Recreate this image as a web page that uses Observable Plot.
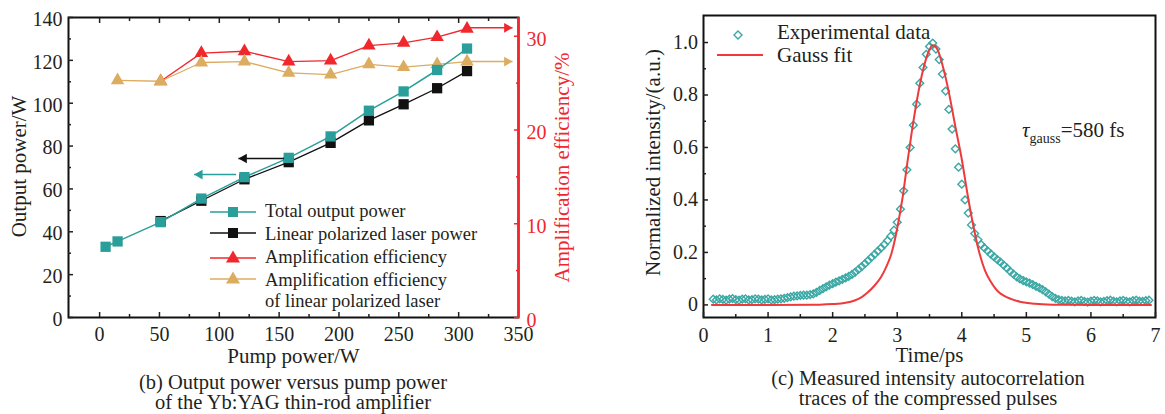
<!DOCTYPE html>
<html><head><meta charset="utf-8">
<script src="https://cdn.jsdelivr.net/npm/d3@7"></script>
<script src="https://cdn.jsdelivr.net/npm/@observablehq/plot@0.6"></script>
<style>
body{margin:0;background:#fff;}
#wrap{position:relative;width:1165px;height:414px;overflow:hidden;font-family:"Liberation Serif","Times New Roman",serif;color:#231f20;}
.abs{position:absolute;white-space:nowrap;}
</style></head><body><div id="wrap"></div>
<script>
// ---- Chart (b) data ----
const pumpPower   = [5, 15, 51, 85, 121, 158, 193, 225, 254, 282, 307];
const totalPower  = [33, 35.5, 44.5, 55.5, 65.5, 74.5, 84.5, 96.5, 105.5, 115.5, 125.5];
const linearPump  = [51, 85, 121, 158, 193, 225, 254, 282, 307];
const linearPower = [45, 54.5, 64.5, 72.5, 81.5, 92, 99.5, 107, 115];
const ampPump     = [51, 85, 121, 158, 193, 225, 254, 282, 307];
const ampEff      = [25.2, 28.2, 28.4, 27.3, 27.4, 29.0, 29.3, 29.9, 30.8];
const linEffPump  = [15, 51, 85, 121, 158, 193, 225, 254, 282, 307];
const linEff      = [25.3, 25.2, 27.2, 27.3, 26.1, 25.9, 27.0, 26.7, 27.0, 27.3];
const powerArrowBlack = [{x1: 154, x2: 116, y: 74.2}];
const powerArrowTeal  = [{x1: 114, x2: 79, y: 66.7}];
const effArrowRed = [{x1: 307, x2: 345, eff: 30.9}];
const effArrowTan = [{x1: 307, x2: 345, eff: 27.3}];
const pumpTicks  = [0, 50, 100, 150, 200, 250, 300, 350];
const pumpMinor  = [25, 75, 125, 175, 225, 275, 325];
const powerTicks = [0, 20, 40, 60, 80, 100, 120, 140];
const powerMinor = [10, 30, 50, 70, 90, 110, 130];
const effTicks = [0, 10, 20, 30];
const effMinor = [5, 15, 25];

// ---- Chart (c) data ----
const expTime = [0.15,0.20,0.25,0.30,0.35,0.40,0.45,0.50,0.55,0.60,0.65,0.70,0.75,0.80,0.85,0.90,0.95,1.00,1.05,1.10,1.15,1.20,1.25,1.30,1.35,1.40,1.45,1.50,1.55,1.60,1.65,1.70,1.75,1.80,1.85,1.90,1.95,2.00,2.05,2.10,2.15,2.20,2.25,2.30,2.35,2.40,2.45,2.50,2.55,2.60,2.65,2.70,2.75,2.80,2.85,2.90,2.95,3.00,3.05,3.10,3.15,3.20,3.25,3.30,3.35,3.40,3.45,3.50,3.55,3.60,3.65,3.70,3.75,3.80,3.85,3.90,3.95,4.00,4.05,4.10,4.15,4.20,4.25,4.30,4.35,4.40,4.45,4.50,4.55,4.60,4.65,4.70,4.75,4.80,4.85,4.90,4.95,5.00,5.05,5.10,5.15,5.20,5.25,5.30,5.35,5.40,5.45,5.50,5.55,5.60,5.65,5.70,5.75,5.80,5.85,5.90,5.95,6.00,6.05,6.10,6.15,6.20,6.25,6.30,6.35,6.40,6.45,6.50,6.55,6.60,6.65,6.70,6.75,6.80,6.85,6.90];
const expIntensity = [0.022,0.019,0.023,0.021,0.018,0.022,0.024,0.020,0.018,0.022,0.023,0.019,0.020,0.023,0.022,0.019,0.021,0.023,0.019,0.020,0.022,0.023,0.025,0.028,0.031,0.033,0.034,0.036,0.037,0.037,0.039,0.042,0.048,0.055,0.062,0.069,0.075,0.081,0.087,0.092,0.097,0.103,0.109,0.116,0.125,0.135,0.146,0.157,0.169,0.181,0.193,0.205,0.217,0.230,0.245,0.262,0.285,0.315,0.365,0.435,0.515,0.600,0.685,0.765,0.845,0.905,0.955,0.985,0.998,0.975,0.935,0.880,0.815,0.745,0.670,0.595,0.525,0.460,0.400,0.350,0.305,0.272,0.248,0.230,0.217,0.206,0.194,0.183,0.173,0.163,0.152,0.140,0.128,0.117,0.107,0.099,0.093,0.088,0.083,0.077,0.071,0.065,0.058,0.050,0.041,0.032,0.025,0.020,0.017,0.015,0.017,0.014,0.012,0.015,0.017,0.013,0.011,0.014,0.017,0.015,0.012,0.013,0.016,0.018,0.014,0.012,0.015,0.017,0.013,0.012,0.016,0.018,0.014,0.013,0.016,0.018];
const gaussTime = [0.13,1.00,1.80,2.00,2.20,2.34,2.45,2.55,2.65,2.75,2.83,2.91,2.97,3.01,3.05,3.09,3.15,3.22,3.32,3.40,3.47,3.55,3.62,3.70,3.80,3.90,4.00,4.09,4.18,4.26,4.36,4.45,4.51,4.57,4.65,4.77,4.90,5.13,5.40,6.00,6.93];
const gaussIntensity = [0,0,0.001,0.003,0.008,0.017,0.030,0.049,0.074,0.106,0.145,0.195,0.255,0.305,0.36,0.42,0.53,0.65,0.80,0.895,0.955,0.99,0.975,0.915,0.81,0.68,0.555,0.42,0.30,0.21,0.131,0.088,0.066,0.049,0.035,0.022,0.012,0.004,0.001,0,0];
const timeTicks = [0, 1, 2, 3, 4, 5, 6, 7];
const timeMinor = [0.5, 1.5, 2.5, 3.5, 4.5, 5.5, 6.5];
const intTicks = [0, 0.2, 0.4, 0.6, 0.8, 1.0];
const intMinor = [0.1, 0.3, 0.5, 0.7, 0.9];

const FONT = '"Liberation Serif","Times New Roman",serif';
const ink = "#231f20", red = "#f0282d", teal = "#2a9e9a", tan = "#dcac60";
const teal2 = "#3aa8a4", red2 = "#ef3a3c";
const K = 140 / 32; // right-axis (efficiency %) to left-axis units

const total = pumpPower.map((x, i) => ({x, y: totalPower[i]}));
const linear = linearPump.map((x, i) => ({x, y: linearPower[i]}));
const amp = ampPump.map((x, i) => ({x, y: ampEff[i] * K}));
const lin = linEffPump.map((x, i) => ({x, y: linEff[i] * K}));

const T = {textAnchor: "middle", lineAnchor: "middle", fontSize: 21};

// arrow = shaft (link) + filled triangular head (rotated dot symbol)
function arrowMarks(data, yAcc, color, dir) {
  const HR = 3.6;
  return [
    Plot.link(data, {x1: "x1", x2: "x2", y1: yAcc, y2: yAcc, stroke: color, strokeWidth: 1.4}),
    Plot.dot(data, {x: "x2", y: yAcc, symbol: "triangle", r: HR, fill: color,
      rotate: dir < 0 ? -90 : 90, dx: dir < 0 ? 1.55 * HR : -1.55 * HR})
  ];
}

const leftChart = Plot.plot({
  width: 600, height: 370,
  marginLeft: 68, marginRight: 82, marginTop: 17, marginBottom: 53,
  x: {domain: [-26, 350]},
  y: {domain: [0, 140]},
  style: {fontFamily: FONT, fontSize: "20px", color: ink, background: "transparent", overflow: "visible"},
  marks: [
    Plot.frame({stroke: "#111", strokeWidth: 2}),
    Plot.ruleX([350], {stroke: red, strokeWidth: 2.5}),
    Plot.line(amp, {x: "x", y: "y", stroke: red, strokeWidth: 1.3}),
    Plot.dot(amp, {x: "x", y: "y", symbol: "triangle", r: 5, fill: red}),
    Plot.line(lin, {x: "x", y: "y", stroke: tan, strokeWidth: 1.3}),
    Plot.dot(lin, {x: "x", y: "y", symbol: "triangle", r: 5, fill: tan}),
    Plot.line(linear, {x: "x", y: "y", stroke: "#111", strokeWidth: 1.3}),
    Plot.dot(linear, {x: "x", y: "y", symbol: "square", r: 5.8, fill: "#111"}),
    Plot.line(total, {x: "x", y: "y", stroke: teal, strokeWidth: 1.5}),
    Plot.dot(total, {x: "x", y: "y", symbol: "square", r: 5.8, fill: teal}),
    ...arrowMarks(powerArrowBlack, "y", "#111", -1),
    ...arrowMarks(powerArrowTeal, "y", teal, -1),
    ...arrowMarks(effArrowRed, d => d.eff * K, red, 1),
    ...arrowMarks(effArrowTan, d => d.eff * K, tan, 1),
    // axes
    Plot.axisX({anchor: "bottom", ticks: pumpTicks, tickSize: 0, tickPadding: 9, label: null}),
    Plot.axisX({anchor: "bottom", ticks: pumpTicks.slice(0, -1), tickSize: -5, strokeWidth: 1.5, fill: "none", label: null}),
    Plot.axisX({anchor: "bottom", ticks: pumpMinor, tickSize: -3, strokeWidth: 1.5, fill: "none", label: null}),
    Plot.axisX({anchor: "top", ticks: pumpTicks.slice(0, -1), tickSize: -5, strokeWidth: 1.5, fill: "none", label: null}),
    Plot.axisX({anchor: "top", ticks: pumpMinor, tickSize: -3, strokeWidth: 1.5, fill: "none", label: null}),
    Plot.axisY({anchor: "left", ticks: powerTicks, tickSize: 0, tickPadding: 6, dy: 2, label: null}),
    Plot.axisY({anchor: "left", ticks: powerTicks, tickSize: -5, strokeWidth: 1.5, fill: "none", label: null}),
    Plot.axisY({anchor: "left", ticks: powerMinor, tickSize: -3, strokeWidth: 1.5, fill: "none", label: null}),
    Plot.axisY({anchor: "right", ticks: effTicks.map(v => v * K), tickFormat: d => String(Math.round(d / K)), tickSize: 0, tickPadding: 8, dy: 3, fill: red, label: null}),
    Plot.axisY({anchor: "right", ticks: effTicks.map(v => v * K), tickSize: -5, strokeWidth: 1.5, stroke: red, fill: "none", label: null}),
    Plot.axisY({anchor: "right", ticks: effMinor.map(v => v * K), tickSize: -3, strokeWidth: 1.5, stroke: red, fill: "none", label: null}),
    Plot.text(["Pump power/W"], {...T, frameAnchor: "bottom", dy: 39, fill: ink}),
    Plot.text(["Output power/W"], {...T, frameAnchor: "left", dx: -49, dy: -1, rotate: -90, fill: ink}),
    Plot.text(["Amplification efficiency/%"], {...T, frameAnchor: "right", dx: 44, rotate: -90, fill: red})
  ]
});

const expData = expTime.map((t, i) => ({t, v: expIntensity[i]}));
const gaussData = gaussTime.map((t, i) => ({t, v: gaussIntensity[i]}));

const rightChart = Plot.plot({
  width: 545, height: 370,
  marginLeft: 83, marginRight: 10, marginTop: 15, marginBottom: 53,
  x: {domain: [0, 7]},
  y: {domain: [-0.048, 1.103]},
  style: {fontFamily: FONT, fontSize: "20px", color: ink, background: "transparent", overflow: "visible"},
  marks: [
    Plot.dot(expData, {x: "t", y: "v", symbol: "diamond2", r: 3.5, stroke: teal2, strokeWidth: 1.4, fill: "none"}),
    Plot.line(gaussData, {x: "t", y: "v", stroke: red2, strokeWidth: 2, curve: "monotone-x"}),
    Plot.frame({stroke: "#111", strokeWidth: 2}),
    Plot.axisX({anchor: "bottom", ticks: timeTicks, tickFormat: d => String(d), tickSize: 0, tickPadding: 10, label: null}),
    Plot.axisX({anchor: "bottom", ticks: timeTicks, tickSize: -5, strokeWidth: 1.5, fill: "none", label: null}),
    Plot.axisX({anchor: "bottom", ticks: timeMinor, tickSize: -3, strokeWidth: 1.5, fill: "none", label: null}),
    Plot.axisY({anchor: "left", ticks: intTicks, tickFormat: d => d === 0 ? "0" : d.toFixed(1), tickSize: 0, tickPadding: 5.5, label: null}),
    Plot.axisY({anchor: "left", ticks: intTicks, tickSize: -5, strokeWidth: 1.5, fill: "none", label: null}),
    Plot.axisY({anchor: "left", ticks: intMinor, tickSize: -3, strokeWidth: 1.5, fill: "none", label: null}),
    Plot.text(["Time/ps"], {...T, frameAnchor: "bottom", dy: 38, fill: ink}),
    Plot.text(["Normalized intensity/(a.u.)"], {...T, frameAnchor: "left", dx: -50, dy: -4, rotate: -90, fill: ink})
  ]
});

const wrap = document.getElementById("wrap");
function place(el, left, top) {
  const d = document.createElement("div");
  d.className = "abs"; d.style.left = left + "px"; d.style.top = top + "px";
  d.appendChild(el); wrap.appendChild(d); return d;
}
place(leftChart, 0, 0);
place(rightChart, 620, 0);

function html(str, left, top, size, lh, extra) {
  const d = document.createElement("div");
  d.className = "abs";
  d.style.cssText += `left:${left}px;top:${top}px;font-size:${size}px;line-height:${lh}px;${extra || ""}`;
  d.innerHTML = str; wrap.appendChild(d); return d;
}

// Legend (b)
const legendRows = [
  {text: "Total output power", base: 217, mark: 212, color: teal, shape: "square"},
  {text: "Linear polarized laser power", base: 240, mark: 233, color: "#111", shape: "square"},
  {text: "Amplification efficiency", base: 263.5, mark: 258, color: red, shape: "triangle"},
  {text: "Amplification efficiency", base: 286.5, mark: 279, color: tan, shape: "triangle"},
  {text: "of linear polarized laser", base: 307, mark: null}
];
const NS = "http://www.w3.org/2000/svg";
const sw = document.createElementNS(NS, "svg");
sw.setAttribute("width", 1165); sw.setAttribute("height", 414);
sw.style.cssText = "position:absolute;left:0;top:0;pointer-events:none;overflow:visible";
function sv(tag, attrs) { const e = document.createElementNS(NS, tag); for (const k in attrs) e.setAttribute(k, attrs[k]); sw.appendChild(e); return e; }
for (const r of legendRows) {
  html(r.text, 265, r.base - 16.24, 18.5, 20);
  if (r.mark == null) continue;
  sv("line", {x1: 210, x2: 256, y1: r.mark, y2: r.mark, stroke: r.color, "stroke-width": 1.4});
  if (r.shape === "square") sv("rect", {x: 228, y: r.mark - 5, width: 10, height: 10, fill: r.color});
  else sv("path", {d: `M233,${r.mark - 7.5} L240,${r.mark + 4.5} L226,${r.mark + 4.5} Z`, fill: r.color});
}
// Legend (c)
sv("path", {d: "M738,31 L742,35 L738,39 L734,35 Z", fill: "none", stroke: teal2, "stroke-width": 1.4});
sv("line", {x1: 717, x2: 763, y1: 55, y2: 55, stroke: red2, "stroke-width": 2});
wrap.appendChild(sw);
html("Experimental data", 777, 20.4, 21, 24);
html("Gauss fit", 777, 43.4, 21, 24);
html('<i>τ</i><span style="font-size:14px;position:relative;top:6px">gauss</span>=580 fs', 1022, 118, 21, 24);

// Captions
html("(b) Output power versus pump power<br>of the Yb:YAG thin-rod amplifier", 43, 371.9, 20.5, 20, "width:500px;text-align:center;");
html("(c) Measured intensity autocorrelation<br>traces of the compressed pulses", 678, 367.6, 20.5, 20, "width:500px;text-align:center;");
</script></body></html>
